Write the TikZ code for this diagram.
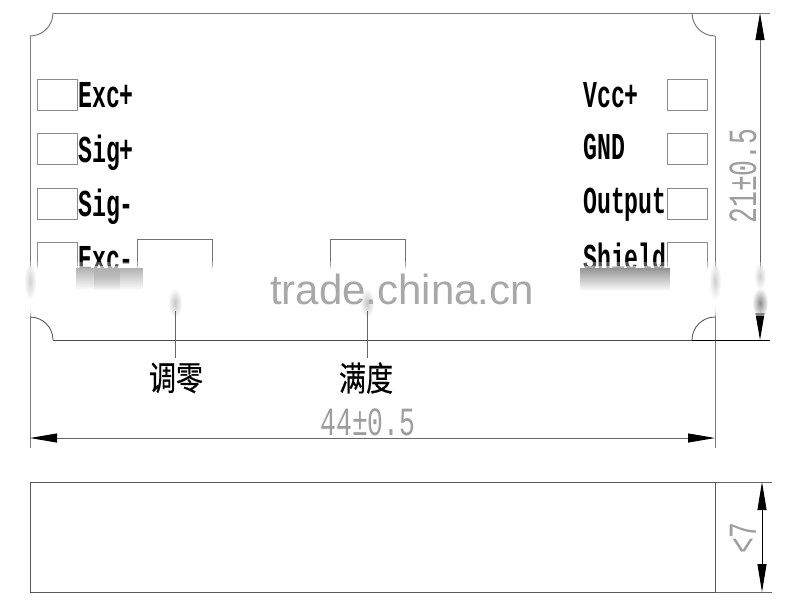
\documentclass[tikz,border=0pt]{standalone}
\usepackage{graphicx}
\usepackage{fontspec}
\setmainfont{Liberation Sans}
\newfontfamily\cadfont{Liberation Mono}
\newfontfamily\cjkfont[FakeBold=0.5]{Noto Sans CJK SC}
\usetikzlibrary{arrows.meta,fadings,shadings}
\tikzfading[name=softblur,inner color=transparent!0,outer color=transparent!100]
\tikzfading[name=barfade,top color=transparent!0,bottom color=transparent!100]
\newcommand{\padlabel}[1]{\scalebox{0.61}[1]{\fontsize{38}{38}\cadfont\bfseries #1}}
\newcommand{\dimlabel}[1]{\scalebox{0.66}[1]{\fontsize{40}{40}\cadfont #1}}
\newcommand{\cjklabel}[1]{\scalebox{1}[1.25]{\fontsize{27}{27}\cjkfont #1}}
\tikzset{
  outline/.style={draw=black!52,line width=1pt},
  thinline/.style={draw=black!70,line width=0.8pt},
  padbox/.style={draw=black!45,line width=0.9pt},
  potbox/.style={draw=black!55,line width=0.9pt},
  dimline/.style={draw=black!60,line width=0.9pt},
  dimarrow/.style={dimline,{Triangle[length=27pt,width=9pt,black]}-{Triangle[length=27pt,width=9pt,black]}},
  padtext/.style={anchor=base west,inner sep=0pt,text=black},
  dimtext/.style={inner sep=0pt,text=black!38},
  cjktext/.style={inner sep=0pt,text=black},
  blurpatch/.style={path fading=softblur},
  barpatch/.style={path fading=barfade}
}
\begin{document}
\begin{tikzpicture}[x=1pt,y=-1pt]
\useasboundingbox (0,0) rectangle (800,606);
\fill[white] (0,0) rectangle (800,606);
% body outline
\draw[outline] (30,36) arc[start angle=90,end angle=0,radius=23] ;
\draw[outline] (53,13) -- (692,13);
\draw[outline] (692,13) arc[start angle=180,end angle=90,radius=23];
\draw[thinline] (30,317) arc[start angle=-90,end angle=0,radius=23];
\draw[thinline] (53,340) -- (692,340);
\draw[thinline] (692,340) arc[start angle=180,end angle=270,radius=23];
\draw[outline] (30,36) -- (30,448);
\draw[outline] (715,36) -- (715,448);
% extension lines
\draw[outline] (692,13) -- (770,13);
\draw[draw=black,line width=0.9pt] (692,340) -- (770,340);
% pads
\foreach \py in {79,133,188,242}{
  \draw[padbox] (37,\py) rectangle (77,\py+31);
  \draw[padbox] (667,\py) rectangle (707,\py+31);
}
% pots
\draw[potbox] (137,300) -- (137,239) -- (212,239) -- (212,300);
\draw[potbox] (330,300) -- (330,239) -- (405,239) -- (405,300);
% pad labels
\node[padtext] (l1) at (78,107) {\padlabel{Exc+}};
\node[padtext] (l2) at (78,162) {\padlabel{Sig+}};
\node[padtext] (l3) at (78,216) {\padlabel{Sig-}};
\node[padtext] (l4) at (78,271) {\padlabel{Exc-}};
\node[padtext] (r1) at (583,107) {\padlabel{Vcc+}};
\node[padtext] (r2) at (583,159) {\padlabel{GND}};
\node[padtext] (r3) at (583,213) {\padlabel{Output}};
\node[padtext] (r4) at (583,270) {\padlabel{Shield}};
% vertical dimension
\draw[dimarrow] (760,13) -- (760,340);
% blurred band
\fill[white] (0,270) rectangle (800,310);
\foreach \a/\b/\o in {262/270/0.3,266/270/0.5,268/270/0.6,310/316/0.5,310/313/0.6}{
  \fill[white,opacity=\o] (0,\a) rectangle (800,\b);
}
\fill[black!30,barpatch] (76,268) rectangle (143,290);
\fill[black!30,barpatch] (94,268) rectangle (120,290);
\fill[black!42,barpatch] (580,268) rectangle (670,291);
\fill[black!45,blurpatch] (752,288) rectangle (768,318);
\fill[black!22,blurpatch] (168,288) rectangle (182,318);
\fill[black!22,blurpatch] (360,288) rectangle (374,318);
\fill[black!18,blurpatch] (24,262) rectangle (36,300);
\fill[black!18,blurpatch] (709,262) rectangle (721,300);
\fill[black!18,blurpatch] (754,262) rectangle (766,290);
% watermark
\node[inner sep=0pt,anchor=base,text=black!34] (wm) at (402,304) {\fontsize{42}{42}\selectfont trade.china.cn};
% leaders
\node[cjktext] (zero) at (176,378) {\cjklabel{调零}};
\node[cjktext] (full) at (366,378) {\cjklabel{满度}};
\coordinate (zt) at (175,311);
\coordinate (ft) at (367,311);
\draw[dimline] (zt) -- (175,358);
\draw[dimline] (ft) -- (367,358);
% horizontal dimension
\draw[dimarrow] (30,438) -- (715,438);
\node[dimtext] (d44) at (368,422) {\dimlabel{44±0.5}};
\node[dimtext,rotate=90] (d21) at (743,176) {\dimlabel{21±0.5}};
% side view
\draw[draw=black!65,line width=1pt] (30,482) rectangle (715,592);
\draw[draw=black!60,line width=1pt] (715,482) -- (772,482);
\draw[draw=black!60,line width=1pt] (715,592) -- (772,592);
\draw[draw=black,line width=0.9pt,{Triangle[length=28pt,width=9pt,black]}-{Triangle[length=28pt,width=9pt,black]}] (762,482) -- (762,592);
\node[dimtext,rotate=90] (d7) at (743,538) {\dimlabel{<7}};
\end{tikzpicture}
\end{document}
